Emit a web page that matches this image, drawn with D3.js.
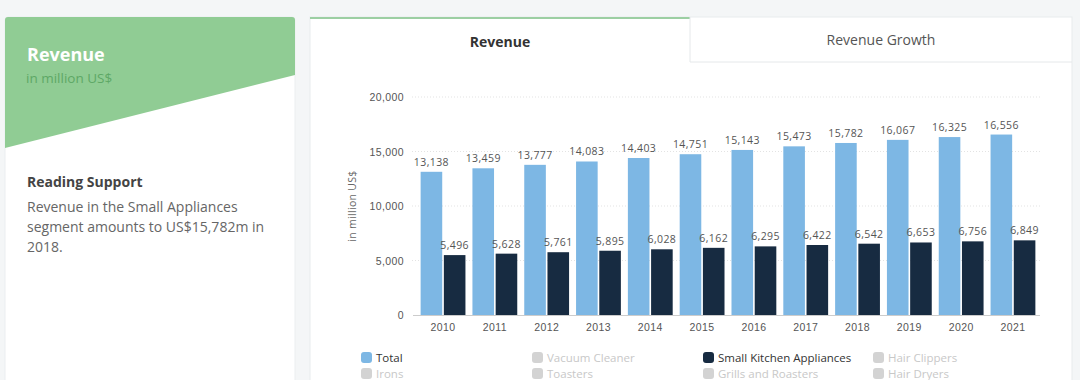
<!DOCTYPE html>
<html>
<head>
<meta charset="utf-8">
<script src="https://cdn.jsdelivr.net/npm/d3@7"></script>
<style>
  html, body { margin: 0; padding: 0; background: #f4f6f7; overflow: hidden; }
  svg { display: block; font-family: "Open Sans", "Noto Sans", sans-serif; }
</style>
</head>
<body>
<div id="chart"></div>
<script>
// chart data
const years = ["2010", "2011", "2012", "2013", "2014", "2015", "2016", "2017", "2018", "2019", "2020", "2021"];
const totalRevenue = [13138, 13459, 13777, 14083, 14403, 14751, 15143, 15473, 15782, 16067, 16325, 16556];
const kitchenRevenue = [5496, 5628, 5761, 5895, 6028, 6162, 6295, 6422, 6542, 6653, 6756, 6849];
const yTicks = [0, 5000, 10000, 15000, 20000];
const legendRow1 = ["Total", "Vacuum Cleaner", "Small Kitchen Appliances", "Hair Clippers"];
const legendRow2 = ["Irons", "Toasters", "Grills and Roasters", "Hair Dryers"];
const activeSeries = ["Total", "Small Kitchen Appliances"];
const readingText = ["Revenue in the Small Appliances", "segment amounts to US$15,782m in", "2018."];

const width = 1080, height = 380;
const colors = { "Total": "#7db7e4", "Small Kitchen Appliances": "#172b41" };

const svg = d3.select("#chart").append("svg")
    .attr("width", width)
    .attr("height", height);

// ---- left card
const left = svg.append("g");
left.append("rect")
    .attr("x", 5).attr("y", 17).attr("width", 290).attr("height", 380)
    .attr("rx", 3)
    .attr("fill", "#fff")
    .attr("stroke", "#ebeef0");
left.append("path")
    .attr("d", "M5,20 Q5,17 8,17 L292,17 Q295,17 295,20 L295,75 L5,148 Z")
    .attr("fill", "#90cc94");
left.append("text")
    .attr("x", 27).attr("y", 61)
    .attr("fill", "#fff").attr("font-size", 18).attr("font-weight", 700)
    .text("Revenue");
left.append("text")
    .attr("x", 26).attr("y", 83)
    .attr("fill", "#5ea866").attr("font-size", 13.5)
    .text("in million US$");
left.append("text")
    .attr("x", 27).attr("y", 187)
    .attr("fill", "#444").attr("font-size", 14).attr("font-weight", 700)
    .text("Reading Support");
left.append("g").selectAll("text")
    .data(readingText)
    .join("text")
    .attr("x", 27)
    .attr("y", (d, i) => 212 + i * 20)
    .attr("fill", "#666").attr("font-size", 14)
    .text(d => d);

// ---- right card with tabs
const card = svg.append("g");
card.append("rect")
    .attr("x", 310).attr("y", 17).attr("width", 762).attr("height", 380)
    .attr("fill", "#fff")
    .attr("stroke", "#e8ebed");
card.append("line")
    .attr("x1", 310).attr("x2", 690).attr("y1", 18).attr("y2", 18)
    .attr("stroke", "#9ccfa3").attr("stroke-width", 2);
card.append("path")
    .attr("d", "M690,17 L690,62 L1072,62")
    .attr("fill", "none").attr("stroke", "#e5e8ea");
card.append("text")
    .attr("x", 500).attr("y", 47)
    .attr("text-anchor", "middle")
    .attr("fill", "#333").attr("font-size", 14).attr("font-weight", 700)
    .text("Revenue");
card.append("text")
    .attr("x", 881).attr("y", 45)
    .attr("text-anchor", "middle")
    .attr("fill", "#555").attr("font-size", 14)
    .text("Revenue Growth");

// ---- scales
const x = d3.scaleBand()
    .domain(years)
    .range([417, 1039])
    .paddingInner(0.135)
    .paddingOuter(0.07);

const xSub = d3.scaleBand()
    .domain(["total", "kitchen"])
    .range([0, x.bandwidth()])
    .paddingInner(0.07);

const y = d3.scaleLinear()
    .domain([0, 20000])
    .range([315, 97]);

const fmt = d3.format(",");

// grid
svg.append("g").selectAll("line")
    .data(yTicks.filter(d => d > 0))
    .join("line")
    .attr("x1", 412).attr("x2", 1040)
    .attr("y1", d => y(d)).attr("y2", d => y(d))
    .attr("stroke", "#e3e3e3")
    .attr("stroke-dasharray", "1,2");

// y axis
const yAxis = svg.append("g")
    .attr("transform", "translate(404,0)")
    .call(d3.axisLeft(y).tickValues(yTicks).tickFormat(fmt).tickSize(0).tickPadding(0));
yAxis.select(".domain").remove();
yAxis.selectAll("text")
    .attr("fill", "#555").attr("font-size", 10.5).attr("dy", "0.35em")
    .style("letter-spacing", "0.4px");

svg.append("text")
    .attr("transform", "translate(356,206) rotate(-90)")
    .attr("text-anchor", "middle")
    .attr("fill", "#666").attr("font-size", 10.5)
    .style("letter-spacing", "0.3px")
    .text("in million US$");

// x axis
const xAxis = svg.append("g")
    .attr("transform", "translate(0,315)")
    .call(d3.axisBottom(x).tickSize(0).tickPadding(9));
xAxis.select(".domain")
    .attr("d", "M413,0.5H1040")
    .attr("stroke", "#ccc");
xAxis.selectAll("text")
    .attr("fill", "#555").attr("font-size", 10.5)
    .style("letter-spacing", "0.4px");

// bars
const groups = svg.append("g").selectAll("g")
    .data(years.map((yr, i) => ({ year: yr, total: totalRevenue[i], kitchen: kitchenRevenue[i] })))
    .join("g")
    .attr("transform", d => `translate(${x(d.year)},0)`);

const seriesDefs = [
    { key: "total", color: colors["Total"] },
    { key: "kitchen", color: colors["Small Kitchen Appliances"] }
];

seriesDefs.forEach(s => {
    groups.append("rect")
        .attr("x", xSub(s.key))
        .attr("width", xSub.bandwidth())
        .attr("y", d => y(d[s.key]))
        .attr("height", d => y(0) - y(d[s.key]))
        .attr("fill", s.color);
    groups.append("text")
        .attr("x", xSub(s.key) + xSub.bandwidth() / 2)
        .attr("y", d => y(d[s.key]) - 6)
        .attr("text-anchor", "middle")
        .attr("fill", "#555").attr("font-size", 10.5)
        .style("letter-spacing", "0.4px")
        .text(d => fmt(d[s.key]));
});

// legend
const legendX = [361, 532, 703, 873];
const legendItems = legendRow1.map((n, i) => ({ name: n, col: i, row: 0 }))
    .concat(legendRow2.map((n, i) => ({ name: n, col: i, row: 1 })));

const legend = svg.append("g").selectAll("g")
    .data(legendItems)
    .join("g")
    .attr("transform", d => `translate(${legendX[d.col]},${352 + d.row * 16})`);
legend.append("rect")
    .attr("width", 11).attr("height", 11).attr("rx", 3)
    .attr("fill", d => activeSeries.includes(d.name) ? colors[d.name] : "#d3d3d3");
legend.append("text")
    .attr("x", 15).attr("y", 10)
    .attr("font-size", 11.5)
    .attr("fill", d => activeSeries.includes(d.name) ? "#333" : "#c8c8c8")
    .text(d => d.name);
</script>
</body>
</html>
